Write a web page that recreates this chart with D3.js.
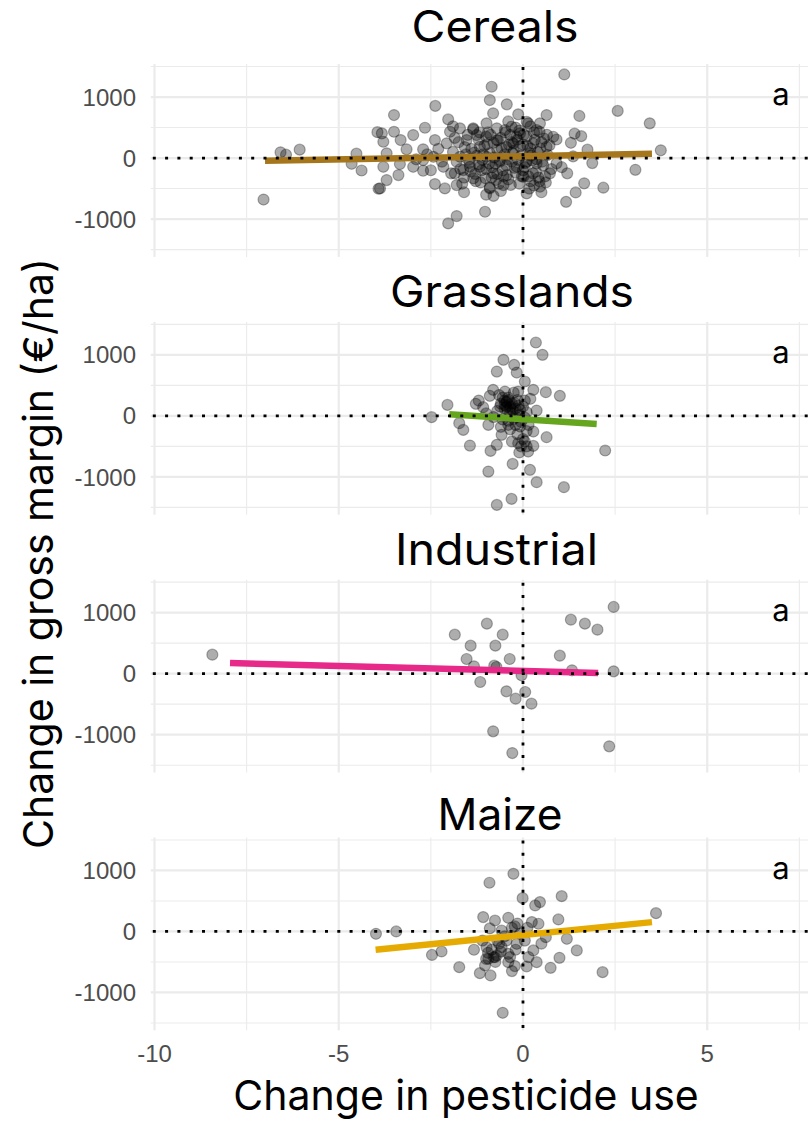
<!DOCTYPE html>
<html>
<head>
<meta charset="utf-8">
<script src="https://cdn.jsdelivr.net/npm/d3@7"></script>
<style>
  body { margin: 0; background: #fff; }
  svg { display: block; }
</style>
</head>
<body>
<svg id="chart" width="808" height="1122"></svg>
<script>
// ---- data ------------------------------------------------------------
const crops = ["Cereals", "Grasslands", "Industrial", "Maize"];
const groupLetters = ["a", "a", "a", "a"];
const xTicks = [-10, -5, 0, 5];
const yTicks = [-1000, 0, 1000];

// change in pesticide use (x) vs change in gross margin, €/ha (y)
const cerealsPoints = [
  [-7.04,-680],[-6.58,94],[-6.43,55],[-6.06,138],[-4.65,-94],[-4.52,72],[-4.38,-204],
  [-3.95,425],[-3.92,-503],[1.12,1370],[1.17,-718],[1.36,28],[1.43,-564],[1.53,690],
  [1.58,359],[1.66,-414],[1.75,138],[1.88,-83],[2.18,-486],[2.57,773],[3.05,-193],
  [3.44,569],[3.74,127],[1.40,400],[1.30,250],[1.20,-250],[1.05,-150],
  [-0.85,1169],[-0.90,951],[-0.44,880],[-2.38,855],[-3.50,705],[-2.03,634],[-0.81,733],
  [-0.13,716],[0.64,705],[-2.66,497],[-2.98,377],[-3.50,431],[-3.83,405],[-3.79,267],
  [-3.32,295],[-2.39,295],[-1.98,431],[-1.71,487],[-1.35,487],[-0.99,569],[-0.49,459],
  [0.14,569],[0.37,459],[0.82,349],[-3.16,143],[-3.70,77],[-2.71,143],[-3.79,-143],
  [-3.34,-98],[-2.98,-143],[-2.71,-208],[-3.38,-279],[-3.70,-361],[-3.88,-497],[-2.39,-426],
  [-2.12,-497],[-1.80,-443],[-1.35,-333],[-0.90,-497],[-0.53,-443],[0.10,-579],[0.46,-470],
  [0.73,-251],[0.91,-87],[-1.03,-880],[-1.80,-951],[-2.03,-1071],[-1.71,21],[-1.62,-197],
  [-1.17,185],[-1.17,-143],[-0.71,295],[-0.62,-33],[-0.26,241],[-0.17,-143],[0.28,241],
  [0.37,-87],[0.64,185],[0.01,-306],[0.19,77],[-2.07,241],[-2.16,-143],[-1.85,-251],
  [-1.44,-143],[-0.99,21],[-0.81,-251],[-0.44,-279],[-0.31,513],[-0.08,405],[0.10,595],
  [0.46,569],[-0.71,487],[-1.26,377],[-1.53,295],[-2.43,21],[-2.71,-33],[0.91,304],
  [-1.90,100],[-1.80,-60],[-1.75,260],[-1.60,-320],[-1.55,60],[-1.50,380],[-1.45,-80],
  [-1.40,150],[-1.30,-260],[-1.25,40],[-1.20,300],[-1.15,-400],[-1.10,-30],[-1.05,200],
  [-1.00,-180],[-0.95,420],[-0.90,80],[-0.85,-320],[-0.80,250],[-0.75,-90],[-0.70,140],
  [-0.65,-420],[-0.60,330],[-0.55,-200],[-0.50,60],[-0.45,180],[-0.40,-350],[-0.35,380],
  [-0.30,-60],[-0.25,120],[-0.20,-240],[-0.15,300],[-0.10,-420],[-0.05,40],[0.00,220],
  [0.05,-150],[0.10,350],[0.15,-300],[0.20,160],[0.25,-40],[0.30,420],[0.35,-220],
  [0.40,100],[0.45,-380],[0.50,260],[0.55,-120],[0.60,-300],[0.65,380],[-1.35,470],
  [-0.90,-480],[-0.20,500],[0.30,-450],[-1.70,-180],[-0.60,-540],[0.10,-60],[-0.30,260],
  [-1.00,350],[0.45,430],[-0.45,-120],[-1.20,-100],[0.20,-380],[-0.70,-260],[0.00,-200],
  [-0.10,450],
  [-1.95,-250],[-1.85,330],[-1.65,-420],[-1.58,180],[-1.48,-30],[-1.42,-220],[-1.32,90],
  [-1.28,-380],[-1.18,420],[-1.12,-200],[-1.08,60],[-1.02,-330],[-0.97,230],[-0.92,-90],
  [-0.88,380],[-0.83,-150],[-0.78,10],[-0.73,-360],[-0.68,290],[-0.63,-60],[-0.58,160],
  [-0.53,-300],[-0.48,420],[-0.43,-20],[-0.38,220],[-0.33,-440],[-0.28,80],[-0.23,-160],
  [-0.18,350],[-0.13,-30],[-0.08,190],[-0.03,-300],[0.02,380],[0.07,-80],[0.12,200],
  [0.17,-500],[0.22,40],[0.27,-250],[0.32,300],[0.37,-20],[0.42,-320],[0.47,150],
  [0.52,-60],[0.57,320],[0.62,-400],[0.67,50],[0.72,210],[0.77,-180],[-2.20,-60],
  [-2.30,150],[-2.50,-200],[-2.60,60],[-1.90,520],[-1.60,-560],[-1.00,-600],[-0.40,600],
  [0.20,520],[0.50,-560],[-0.80,-620],[-2.90,-20]
];
const grasslandsPoints = [
  [0.35,1202],[0.53,1000],[-0.53,918],[-0.24,836],[-0.71,726],[-0.17,710],[0.05,563],
  [0.28,426],[0.62,388],[1.00,328],[-0.81,426],[-0.90,328],[-0.49,398],[-0.13,398],
  [-2.05,180],[-1.28,197],[-1.08,142],[-0.44,235],[-0.35,126],[-0.08,98],[0.37,87],
  [-0.62,153],[-2.48,-21],[-1.73,-120],[-1.62,-230],[-0.94,-148],[-0.40,-148],[-0.08,-175],
  [0.28,-257],[0.64,-350],[-0.58,-311],[-1.44,-487],[-0.71,-475],[-0.88,-574],[-0.13,-448],
  [0.28,-492],[0.14,-585],[2.23,-568],[-0.28,-787],[-0.94,-913],[0.19,-885],[0.37,-1087],
  [1.11,-1169],[-0.31,-1361],[-0.71,-1459],
  [-0.60,200],[-0.50,250],[-0.45,150],[-0.40,300],[-0.35,50],[-0.30,200],[-0.25,-50],
  [-0.20,120],[-0.15,260],[-0.10,20],[-0.05,-100],[0.00,150],[0.05,-30],[0.10,60],
  [-0.55,-60],[-0.70,80],[-0.80,-20],[0.15,-150],[-0.35,-220],[-0.15,-300],[0.00,-380],
  [0.10,-250],[-0.60,-180],[-0.25,380],[-1.00,40],[-1.20,250],[0.20,280],[-0.05,-500],
  [-0.30,-420],
  [-0.55,300],[-0.50,180],[-0.45,220],[-0.42,100],[-0.38,260],[-0.33,150],[-0.28,90],
  [-0.22,210],[-0.18,-20],[-0.12,170],[-0.50,120],[-0.40,-80],[-0.20,-150],[0.05,250],
  [-0.65,340],[0.10,-500],[0.05,-420],[-0.10,-600]
];
const industrialPoints = [
  [-8.43,311],[-1.85,639],[-1.42,459],[-0.98,820],[-0.55,639],[-0.75,459],[-0.36,240],
  [-1.53,240],[-1.33,120],[-0.78,131],[-0.72,109],[-1.16,-137],[-0.45,-290],[-0.20,-410],
  [-0.04,-27],[0.06,-301],[0.23,-492],[-0.81,-945],[-0.29,-1301],[1.00,295],[1.30,885],
  [1.68,820],[2.02,721],[1.33,55],[2.46,1093],[2.46,38],[2.34,-1191]
];
const maizePoints = [
  [-3.99,-38],[-3.44,0],[-2.47,-385],[-2.21,-328],[-1.73,-585],[-1.33,-300],[-1.17,-683],
  [-1.08,235],[-1.03,-557],[-0.99,-257],[-0.94,-448],[-0.91,798],[-0.88,-721],[-0.76,180],
  [-0.76,-421],[-0.71,-393],[-0.58,16],[-0.58,-257],[-0.55,-1333],[-0.40,224],[-0.40,-366],
  [-0.40,-503],[-0.26,945],[-0.22,82],[-0.22,-568],[-0.17,-202],[-0.08,-38],[-0.01,546],
  [0.10,-574],[0.24,153],[0.28,-311],[0.33,426],[0.37,-503],[0.42,126],[0.46,481],
  [0.62,-93],[0.75,-596],[0.96,197],[0.99,-432],[1.05,579],[1.19,-120],[1.46,-311],
  [2.16,-667],[3.61,300],
  [-0.90,50],[-0.70,-150],[-0.50,-80],[-0.30,60],[-0.60,-330],[-0.85,-300],[-0.15,130],
  [0.05,-150],[0.15,-420],[-1.10,-150],[-0.30,-650],[0.50,-200],[0.12,60],
  [-0.95,-350],[-0.80,-420],[-0.65,-200],[-0.45,-150],[-0.35,-420],[-0.20,-300],
  [-1.00,-450],[-0.75,-500]
];
const pointSets = [cerealsPoints, grasslandsPoints, industrialPoints, maizePoints];

// linear fits: [start, end] in data units
const cerealsFit = [[-7.0,-45],[3.5,70]];
const grasslandsFit = [[-2.0,25],[2.0,-135]];
const industrialFit = [[-7.95,175],[2.04,11]];
const maizeFit = [[-4.0,-300],[3.5,153]];
const fitLines = [cerealsFit, grasslandsFit, industrialFit, maizeFit];

// ---- layout & style ----------------------------------------------------
const fitColors = ["#A6761D", "#66A61E", "#E7298A", "#E6AB02"];
const panelTop0 = 64.1, panelStep = 257.8, panelH = 192.8;
const titleBaselines = [42, 307, 565, 830];
const titleCenters = [495, 512, 496.5, 500];
const titleWidths = [167, 244, 203, 125];
const gridCol = "#EBEBEB";
const tickCol = "#4D4D4D";
const titleFont = "Inter, 'Noto Sans', sans-serif";
const tickFont = "'Liberation Sans', Arial, sans-serif";

const svg = d3.select("#chart");

const x = d3.scaleLinear().domain([-10.1, 8.6]).range([150.8, 839.9]);
const xMajor = [-10, -5, 0, 5];
const xMinor = [-7.5, -2.5, 2.5, 7.5];
const yMajor = [-1000, 0, 1000];
const yMinor = [-1500, -500, 500, 1500];

crops.forEach((crop, i) => {
  const top = panelTop0 + i * panelStep;
  const y = d3.scaleLinear().domain([-1620, 1540]).range([top + panelH, top]);
  const g = svg.append("g").attr("class", "panel");

  // grid
  g.append("g").selectAll("line").data(yMinor).join("line")
    .attr("x1", x.range()[0]).attr("x2", x.range()[1])
    .attr("y1", d => y(d)).attr("y2", d => y(d))
    .attr("stroke", gridCol).attr("stroke-width", 1.1);
  g.append("g").selectAll("line").data(xMinor).join("line")
    .attr("y1", top).attr("y2", top + panelH)
    .attr("x1", d => x(d)).attr("x2", d => x(d))
    .attr("stroke", gridCol).attr("stroke-width", 1.1);
  g.append("g").selectAll("line").data(yMajor).join("line")
    .attr("x1", x.range()[0]).attr("x2", x.range()[1])
    .attr("y1", d => y(d)).attr("y2", d => y(d))
    .attr("stroke", gridCol).attr("stroke-width", 2.2);
  g.append("g").selectAll("line").data(xMajor).join("line")
    .attr("y1", top).attr("y2", top + panelH)
    .attr("x1", d => x(d)).attr("x2", d => x(d))
    .attr("stroke", gridCol).attr("stroke-width", 2.2);

  // y tick labels
  g.append("g").selectAll("text").data(yTicks).join("text")
    .attr("x", 136).attr("y", d => y(d)).attr("dy", "0.36em")
    .attr("text-anchor", "end")
    .attr("font-family", tickFont).attr("font-size", 24)
    .attr("fill", tickCol)
    .text(d => d);

  // observations
  g.append("g").selectAll("circle").data(pointSets[i]).join("circle")
    .attr("cx", d => x(d[0])).attr("cy", d => y(d[1])).attr("r", 5.5)
    .attr("fill", "#000").attr("fill-opacity", 0.32)
    .attr("stroke", "#000").attr("stroke-opacity", 0.3).attr("stroke-width", 1.2);

  // linear fit
  g.append("path").datum(fitLines[i])
    .attr("d", d3.line().x(d => x(d[0])).y(d => y(d[1])))
    .attr("fill", "none").attr("stroke", fitColors[i])
    .attr("stroke-width", 6.5).attr("stroke-linecap", "butt");

  // zero reference lines
  g.append("line")
    .attr("x1", x.range()[0] + 2).attr("x2", x.range()[1])
    .attr("y1", y(0)).attr("y2", y(0))
    .attr("stroke", "#000").attr("stroke-width", 2.8)
    .attr("stroke-dasharray", "3 9.3");
  g.append("line")
    .attr("x1", x(0)).attr("x2", x(0))
    .attr("y1", top + 3).attr("y2", top + panelH)
    .attr("stroke", "#000").attr("stroke-width", 2.8)
    .attr("stroke-dasharray", "3 9.3");

  // group letter
  g.append("text")
    .attr("x", x(7.0)).attr("y", y(1000)).attr("dy", "0.27em")
    .attr("text-anchor", "middle")
    .attr("font-family", titleFont).attr("font-size", 31)
    .attr("fill", "#000")
    .text(groupLetters[i]);

  // facet title
  svg.append("text")
    .attr("x", titleCenters[i]).attr("y", titleBaselines[i])
    .attr("text-anchor", "middle")
    .attr("font-family", titleFont).attr("font-size", 44)
    .attr("textLength", titleWidths[i]).attr("lengthAdjust", "spacingAndGlyphs")
    .attr("fill", "#000")
    .text(crop);
});

// x tick labels (bottom panel only)
svg.append("g").selectAll("text").data(xTicks).join("text")
  .attr("x", d => x(d)).attr("y", 1061.7)
  .attr("text-anchor", "middle")
  .attr("font-family", tickFont).attr("font-size", 24)
  .attr("fill", tickCol)
  .text(d => d);

// axis titles
svg.append("text")
  .attr("x", 466).attr("y", 1110)
  .attr("text-anchor", "middle")
  .attr("font-family", titleFont).attr("font-size", 41)
  .attr("fill", "#000")
  .text("Change in pesticide use");

svg.append("text")
  .attr("transform", "translate(53,553.5) rotate(-90)")
  .attr("text-anchor", "middle")
  .attr("font-family", titleFont).attr("font-size", 41)
  .attr("fill", "#000")
  .text("Change in gross margin (€/ha)");
</script>
</body>
</html>
